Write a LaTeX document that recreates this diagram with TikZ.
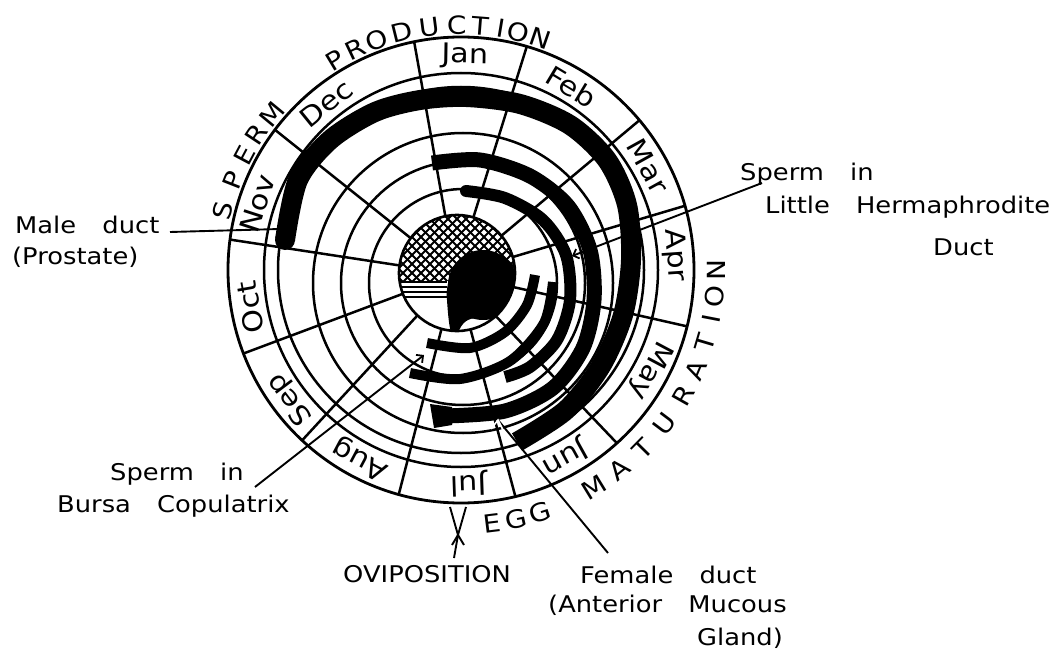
\documentclass[tikz,border=0pt]{standalone}
\usepackage{fontspec}
\newfontfamily\lab[FakeStretch=1.12,WordSpace=3.2]{DejaVu Sans}
\usetikzlibrary{calc,arrows.meta}
\begin{document}
\begin{tikzpicture}[x=1pt,y=1pt,
  gridline/.style={line width=2.5pt},
  band/.style={line width=#1, line cap=butt, line join=round},
  leader/.style={line width=1.9pt},
  tip/.style={-{Straight Barb[length=5pt,width=10pt,line width=1.8pt]}},
  lbl/.style={font=\lab\fontsize{23}{28}\selectfont, inner sep=0pt, anchor=base west},
  mon/.style={font=\lab\fontsize{27}{30}\selectfont, inner sep=0pt},
  big/.style={font=\lab\fontsize{25}{30}\selectfont, inner sep=0pt},
]
\useasboundingbox (0,-650) rectangle (1063,0);
\coordinate (O) at (461,-270);
\coordinate (D) at (457,-273);
\coordinate (Oi) at (463,-283);
% grid circles
\draw[line width=2.8pt] (O) circle (233);
\draw[gridline] (O) circle (197);
\draw[gridline] (O) circle (183);
\draw[gridline] (Oi) circle (150);
\draw[gridline] (Oi) circle (122);
\draw[gridline] (Oi) circle (94);
% radial month boundaries
\foreach \a in {101.6,73.6,40,16,-14,-48,-76.5,-105.5,-133,-159,172.5,143}{
  \draw[gridline] ([shift={(\a:58)}]D) -- ([shift={(\a:233)}]O);
}
% black bands
% male duct (prostate)
\draw[band=20pt] plot[smooth] coordinates {(285,-240) (298,-180) (330,-140) (375,-112) (420,-100) (466,-97) (520,-104) (570,-125) (607,-160) (627,-205) (631,-260) (623,-315) (601,-366) (566,-410) (517,-442)};
\fill (285,-240) circle (10);
% female duct (anterior mucous gland)
\draw[band=15pt] plot[smooth] coordinates {(432,-163) (480,-160) (530,-176) (568,-206) (590,-250) (594,-300) (583,-348) (553,-388) (505,-411) (445,-416)};
\fill (430,-404) -- (452,-407) -- (452,-425) -- (434,-428) -- cycle;
% sperm in little hermaphrodite duct
\draw[band=12pt] plot[smooth] coordinates {(466,-191) (505,-198) (543,-220) (566,-255) (570,-300) (557,-340) (530,-367) (505,-377)};
\fill (466,-191) circle (6);
% sperm in bursa copulatrix
\draw[band=10pt] plot[smooth] coordinates {(410,-373) (460,-379) (510,-361) (544,-323) (553,-282)};
\draw[band=10pt] plot[smooth] coordinates {(427,-343) (470,-348) (505,-332) (527,-305) (535,-275)};
% small marks on bands
\draw[white, line width=1.2pt] (407,-118) circle (2.5);
\fill[black] (510,-326) circle (3);
% central disc
\fill[white] (D) circle (58);
\begin{scope}
  \clip (D) circle (58);
  \begin{scope}
    \clip (390,-200) rectangle (520,-280);
    \foreach \k in {-14,...,14}{
      \draw[line width=1.8pt] ($(D)+(\k*9,0)+(-80,-80)$) -- ++(160,160);
      \draw[line width=1.8pt] ($(D)+(\k*9,0)+(-80,80)$) -- ++(160,-160);
    }
  \end{scope}
  \foreach \yy in {282,287,292,297}{
    \draw[line width=1.4pt] (395,-\yy) -- (447,-\yy);
  }
  \fill[black] (483,-285) circle (35);
  \fill[black] (470,-252) .. controls (452,-262) and (445,-285) .. (447,-300)
     .. controls (448,-315) and (449,-325) .. (451,-333)
     -- (458,-333) .. controls (462,-322) and (468,-318) .. (478,-318) -- cycle;
\end{scope}
\draw[line width=2.6pt] (D) circle (58);
% month labels
\foreach \a/\t in {89/Jan,59/Feb,29/Mar,4/Apr,-28/May,-61/Jun,-88/Jul,-118/Aug,-143/Sep,-170/Oct,162/Nov,129/Dec}{
  \node[mon, rotate=\a-90] at ([shift={(\a:214)}]O) {\t};
}
% outer words
\foreach \a/\t in {166/S,158.5/P,152/E,146.5/R,140.5/M,121/P,115.5/R,110/O,104/D,97.5/U,91/C,85.5/T,80.5/I,76.5/O,71/N}{
  \node[big, rotate=\a-90] at ([shift={(\a:245)}]O) {\t};
}
\foreach \a/\t in {-58.5/M,-51.5/A,-44.5/T,-37/U,-29.5/R,-23/A,-16.5/T,-11/I,-6/O,0/N,-83/E,-77.5/G,-72/G}{
  \node[big, rotate=\a+90] at ([shift={(\a:255)}]O) {\t};
}
% labels
\node[lbl] (male) at (15,-233) {Male duct};
\node[lbl] (male2) at (12,-264) {(Prostate)};
\node[lbl] (bur1) at (110,-480) {Sperm in};
\node[lbl] (bur2) at (57,-512) {Bursa Copulatrix};
\node[lbl] (lh1) at (740,-180) {Sperm in};
\node[lbl] (lh2) at (765,-213) {Little Hermaphrodite};
\node[lbl] (lh3) at (933,-255) {Duct};
\node[lbl] (ovi) at (343,-582) {OVIPOSITION};
\node[lbl] (fem1) at (580,-583) {Female duct};
\node[lbl] (fem2) at (548,-612) {(Anterior Mucous};
\node[lbl] (fem3) at (697,-645) {Gland)};
% leaders
\coordinate (pm) at (280,-229);
\coordinate (pb) at (424,-355);
\coordinate (pl) at (572,-256);
\coordinate (pf) at (498,-420);
\coordinate (po) at (458,-535);
\draw[leader] (170,-232) -- (pm);
\draw[leader, tip] (255,-487) -- (pb);
\draw[leader, tip] (762,-183) -- (pl);
\draw[leader] (608,-553) -- (pf);
\draw[white, line width=1.6pt] (491,-429) -- (498,-420) -- (503,-430);
\draw[leader] (450,-507) -- (po) -- (466,-507);
\draw[leader] (454,-558) -- (po);
\draw[leader] (452,-545) -- (po) -- (464,-545);
\end{tikzpicture}
\end{document}
